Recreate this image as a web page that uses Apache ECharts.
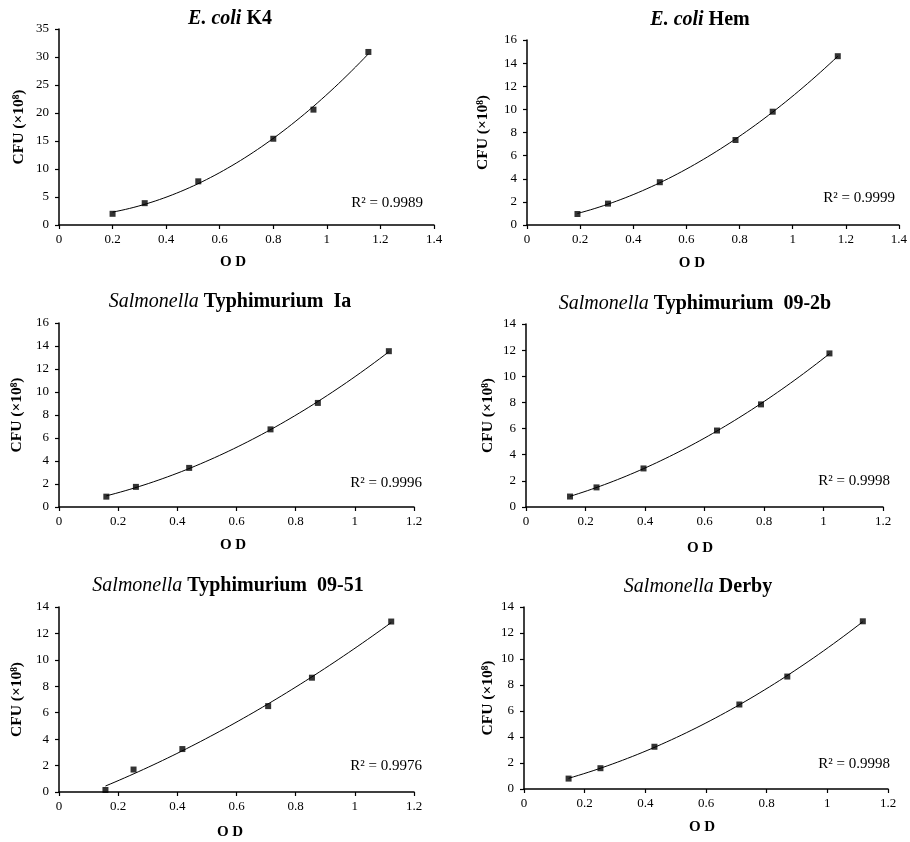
<!DOCTYPE html>
<html>
<head>
<meta charset="utf-8">
<title>CFU vs OD</title>
<script src="https://cdn.jsdelivr.net/npm/echarts@6/dist/echarts.min.js"></script>
<style>
  html, body { margin: 0; padding: 0; background: #fff; }
  #main { width: 910px; height: 842px; }
</style>
</head>
<body>
<div id="main"></div>
<script>
var k4Od = [0.2, 0.32, 0.52, 0.8, 0.95, 1.155]
var k4Cfu = [2.0, 3.9, 7.8, 15.4, 20.6, 30.9]

var hemOd = [0.19, 0.305, 0.5, 0.785, 0.925, 1.17]
var hemCfu = [0.95, 1.85, 3.7, 7.35, 9.8, 14.6]

var iaOd = [0.16, 0.26, 0.44, 0.715, 0.875, 1.115]
var iaCfu = [0.9, 1.75, 3.4, 6.75, 9.05, 13.55]

var b2Od = [0.148, 0.237, 0.395, 0.642, 0.79, 1.02]
var b2Cfu = [0.8, 1.5, 2.95, 5.85, 7.85, 11.75]

var s51Od = [0.157, 0.252, 0.417, 0.707, 0.855, 1.123]
var s51Cfu = [0.15, 1.7, 3.25, 6.5, 8.65, 12.9]

var derbyOd = [0.147, 0.252, 0.43, 0.71, 0.868, 1.117]
var derbyCfu = [0.8, 1.6, 3.25, 6.5, 8.65, 12.9]

var r2Labels = ['0.9989', '0.9999', '0.9996', '0.9998', '0.9976', '0.9998']

// 2nd order least squares fit, same as the polynomial trendline in the figure
function quadFit(xs, ys) {
  var s = [0, 0, 0, 0, 0]
  var t = [0, 0, 0]
  for (var i = 0; i < xs.length; i++) {
    var p = 1
    for (var k = 0; k < 5; k++) {
      s[k] += p
      if (k < 3) t[k] += ys[i] * p
      p *= xs[i]
    }
  }
  var m = [[s[0], s[1], s[2]], [s[1], s[2], s[3]], [s[2], s[3], s[4]]]
  function det(a) {
    return a[0][0] * (a[1][1] * a[2][2] - a[1][2] * a[2][1]) -
      a[0][1] * (a[1][0] * a[2][2] - a[1][2] * a[2][0]) +
      a[0][2] * (a[1][0] * a[2][1] - a[1][1] * a[2][0])
  }
  var d = det(m)
  var coef = []
  for (var c = 0; c < 3; c++) {
    var mc = m.map(function (row, r) {
      var copy = row.slice()
      copy[c] = t[r]
      return copy
    })
    coef.push(det(mc) / d)
  }
  return coef
}

function trendLine(xs, ys) {
  var c = quadFit(xs, ys)
  var x0 = Math.min.apply(null, xs)
  var x1 = Math.max.apply(null, xs)
  var pts = []
  for (var i = 0; i <= 60; i++) {
    var x = x0 + (x1 - x0) * i / 60
    pts.push([x, c[0] + c[1] * x + c[2] * x * x])
  }
  return pts
}

var serif = '"Liberation Serif", "Times New Roman", serif'

var panels = [
  { genus: 'E. coli', strain: 'K4', od: k4Od, cfu: k4Cfu, xMax: 1.4, yMax: 35, yStep: 5,
    grid: [59, 29, 375, 196], title: [230, 9], r2: [423, 196], yGap: 32, xGap: 30, xShift: 27, bold: true },
  { genus: 'E. coli', strain: 'Hem', od: hemOd, cfu: hemCfu, xMax: 1.4, yMax: 16, yStep: 2,
    grid: [527, 40, 374, 185], title: [700, 10], r2: [895, 191], yGap: 36, xGap: 31, xShift: 42, bold: true },
  { genus: 'Salmonella', strain: 'Typhimurium  Ia', od: iaOd, cfu: iaCfu, xMax: 1.2, yMax: 16, yStep: 2,
    grid: [59, 323, 355, 184], title: [230, 292], r2: [422, 476], yGap: 34, xGap: 31, xShift: 7 },
  { genus: 'Salmonella', strain: 'Typhimurium  09-2b', od: b2Od, cfu: b2Cfu, xMax: 1.2, yMax: 14, yStep: 2,
    grid: [526, 324, 357, 183], title: [695, 294], r2: [890, 474], yGap: 30, xGap: 34, xShift: 9 },
  { genus: 'Salmonella', strain: 'Typhimurium  09-51', od: s51Od, cfu: s51Cfu, xMax: 1.2, yMax: 14, yStep: 2,
    grid: [59, 607, 355, 185], title: [228, 576], r2: [422, 759], yGap: 34, xGap: 33, xShift: 13 },
  { genus: 'Salmonella', strain: 'Derby', od: derbyOd, cfu: derbyCfu, xMax: 1.2, yMax: 14, yStep: 2,
    grid: [524, 607, 364, 182], title: [698, 577], r2: [890, 757], yGap: 28, xGap: 31, xShift: 8 }
]

var option = {
  animation: false,
  backgroundColor: '#fff',
  title: [],
  grid: [],
  xAxis: [],
  yAxis: [],
  series: []
}

panels.forEach(function (p, i) {
  option.title.push({
    text: '{i|' + p.genus + '} {b|' + p.strain + '}',
    left: p.title[0],
    top: p.title[1],
    textAlign: 'center',
    padding: 0,
    textStyle: {
      rich: {
        i: { fontFamily: serif, fontSize: 20, fontStyle: 'italic', fontWeight: p.bold ? 'bold' : 'normal', color: '#000' },
        b: { fontFamily: serif, fontSize: 20, fontWeight: 'bold', color: '#000' }
      }
    }
  })
  option.title.push({
    text: 'R\u00b2 = ' + r2Labels[i],
    left: p.r2[0],
    top: p.r2[1],
    textAlign: 'right',
    padding: 0,
    textStyle: { fontFamily: serif, fontSize: 15, fontWeight: 'normal', color: '#000' }
  })

  option.grid.push({
    left: p.grid[0],
    top: p.grid[1],
    width: p.grid[2],
    height: p.grid[3],
    containLabel: false
  })

  option.xAxis.push({
    type: 'value',
    gridIndex: i,
    min: 0,
    max: p.xMax,
    interval: 0.2,
    name: 'O D',
    nameLocation: 'middle',
    nameGap: p.xGap,
    nameTextStyle: {
      fontFamily: serif, fontSize: 15, fontWeight: 'bold', color: '#000',
      padding: [0, p.xShift, 0, 0]
    },
    axisLine: { show: true, onZero: false, lineStyle: { color: '#000', width: 1.5 } },
    axisTick: { show: true, length: 4, lineStyle: { color: '#000', width: 1.2 } },
    axisLabel: { fontFamily: serif, fontSize: 13, color: '#000', margin: 8 },
    splitLine: { show: false }
  })

  option.yAxis.push({
    type: 'value',
    gridIndex: i,
    min: 0,
    max: p.yMax,
    interval: p.yStep,
    name: 'CFU (\u00d710\u2078)',
    nameLocation: 'middle',
    nameGap: p.yGap,
    nameTextStyle: { fontFamily: serif, fontSize: 15.5, fontWeight: 'bold', color: '#000' },
    axisLine: { show: true, onZero: false, lineStyle: { color: '#000', width: 1.5 } },
    axisTick: { show: true, length: 4, lineStyle: { color: '#000', width: 1.2 } },
    axisLabel: { fontFamily: serif, fontSize: 13, color: '#000', margin: 10 },
    splitLine: { show: false }
  })

  // fitted curve
  option.series.push({
    type: 'line',
    xAxisIndex: i,
    yAxisIndex: i,
    data: trendLine(p.od, p.cfu),
    showSymbol: false,
    silent: true,
    lineStyle: { color: '#000', width: 1 },
    z: 2
  })
  // measured points
  option.series.push({
    type: 'scatter',
    xAxisIndex: i,
    yAxisIndex: i,
    data: p.od.map(function (x, k) { return [x, p.cfu[k]] }),
    symbol: 'rect',
    symbolSize: 6,
    itemStyle: { color: '#000' },
    z: 3
  })
})

var chart = echarts.init(document.getElementById('main'))
chart.setOption(option)
</script>
</body>
</html>
